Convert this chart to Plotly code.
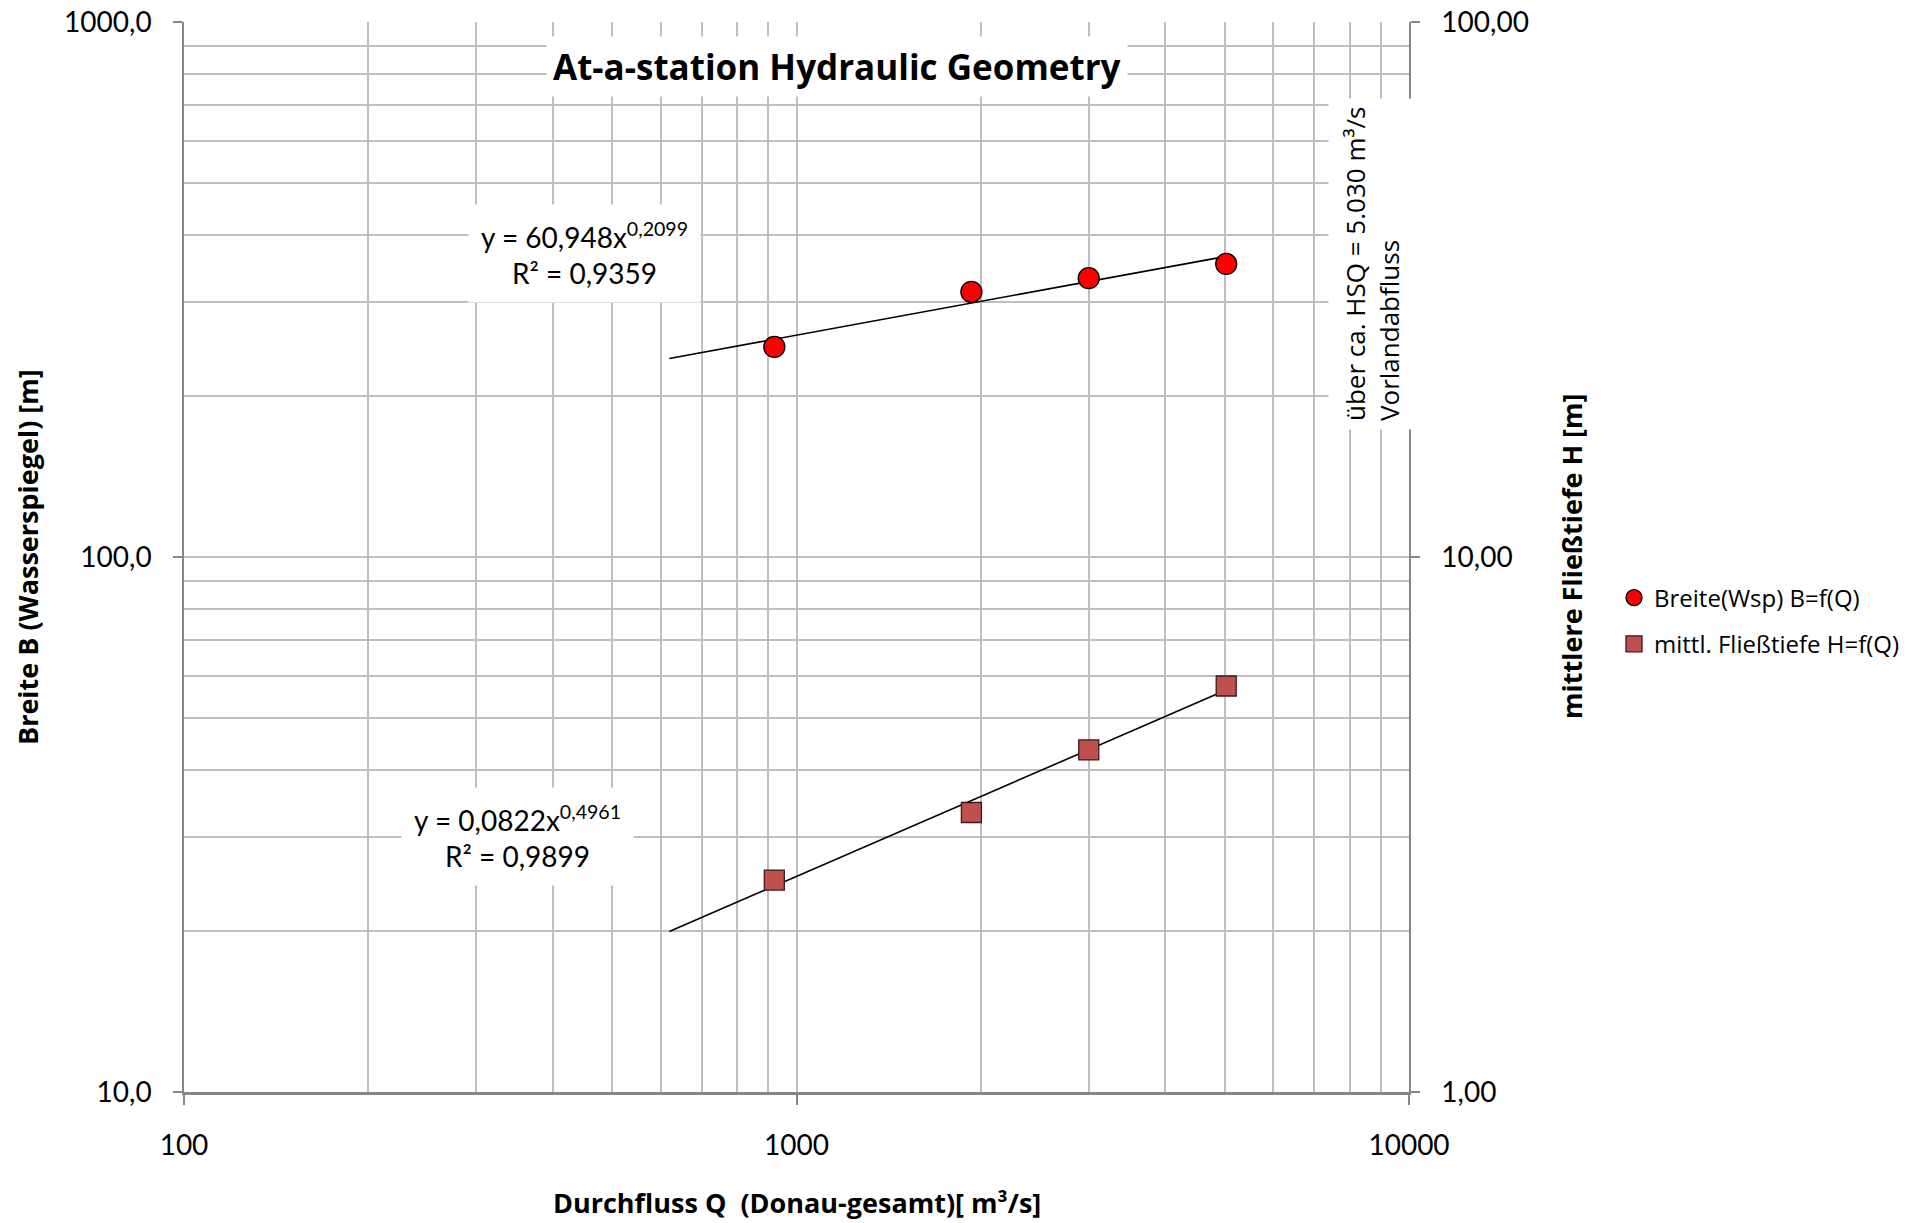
import plotly.graph_objects as go
import numpy as np

# ---- data ----
q_breite = [920, 1930, 3000, 5030]
breite = [247, 313, 332, 353]
q_tiefe = [920, 1930, 3000, 5030]
tiefe = [2.49, 3.33, 4.36, 5.74]

# trendline coefficients (power fit, as displayed)
fit_b = (60.948, 0.2099)
fit_h = (0.0822, 0.4961)
trend_q = [620, 5030]

x_tickvals = [100, 1000, 10000]
x_ticktext = ["100", "1000", "10000"]
yl_tickvals = [10, 100, 1000]
yl_ticktext = ["10,0", "100,0", "1000,0"]
yr_tickvals = [1, 10, 100]
yr_ticktext = ["1,00", "10,00", "100,00"]

x_minor = [m * d for d in (100, 1000) for m in range(2, 10)]
yl_minor = [m * d for d in (10, 100) for m in range(2, 10)]

W, H = 1924, 1223
L, R, T, B = 184, 1409, 22, 1092          # plot area in page pixels
def px(X): return (X - L) / (R - L)
def py(Y): return (B - Y) / (B - T)

tq = np.array(trend_q, dtype=float)
fig = go.Figure()

fig.add_trace(go.Scatter(x=tq, y=fit_b[0] * tq ** fit_b[1], mode="lines",
                         line=dict(color="black", width=1.6), showlegend=False, hoverinfo="skip"))
fig.add_trace(go.Scatter(x=tq, y=fit_h[0] * tq ** fit_h[1], mode="lines", yaxis="y2",
                         line=dict(color="black", width=1.6), showlegend=False, hoverinfo="skip"))

fig.add_trace(go.Scatter(x=q_breite, y=breite, mode="markers", name="Breite(Wsp) B=f(Q)",
                         legendgroup="a",
                         marker=dict(symbol="circle", size=21, color="#FF0000",
                                     line=dict(color="black", width=1.3))))
fig.add_trace(go.Scatter(x=q_tiefe, y=tiefe, mode="markers", yaxis="y2",
                         name="mittl. Fließtiefe H=f(Q)", legendgroup="b",
                         marker=dict(symbol="square", size=20, color="#C0504D",
                                     line=dict(color="#3a1a1a", width=1.3))))

grid = "#BFBFBF"
axc = "#868686"
tickfont = dict(family="Lato, Open Sans, sans-serif", size=28, color="black")

fig.update_layout(
    width=W, height=H,
    margin=dict(l=L, r=W - R, t=T, b=H - B, autoexpand=False),
    plot_bgcolor="white", paper_bgcolor="white",
    showlegend=True,
    legend=dict(x=px(1614), y=py(621), xanchor="left", yanchor="middle",
                font=dict(family="Open Sans, sans-serif", size=24, color="black"),
                tracegroupgap=12, itemwidth=30, bgcolor="rgba(0,0,0,0)"),
    xaxis=dict(type="log", range=[2, 4], tickvals=x_tickvals, ticktext=x_ticktext,
               automargin=False, ticklabeloverflow="allow",
               showgrid=True, gridcolor=grid, gridwidth=1.5,
               minor=dict(tickvals=x_minor, showgrid=True, gridcolor=grid, gridwidth=1.5, ticks=""),
               showline=True, linecolor=axc, linewidth=3, mirror=False,
               ticks="outside", ticklen=10, tickcolor=axc, tickwidth=1.5,
               ticklabelstandoff=16, tickfont=tickfont, zeroline=False),
    yaxis=dict(type="log", range=[1, 3], tickvals=yl_tickvals, ticktext=yl_ticktext,
               automargin=False, ticklabeloverflow="allow",
               showgrid=True, gridcolor=grid, gridwidth=1.5,
               minor=dict(tickvals=yl_minor, showgrid=True, gridcolor=grid, gridwidth=1.5, ticks=""),
               showline=True, linecolor=axc, linewidth=1.5,
               ticks="outside", ticklen=9, tickcolor=axc, tickwidth=1.5,
               ticklabelstandoff=16, tickfont=tickfont, zeroline=False),
    yaxis2=dict(type="log", range=[0, 2], overlaying="y", side="right",
                automargin=False, ticklabeloverflow="allow",
                tickvals=yr_tickvals, ticktext=yr_ticktext, showgrid=False,
                showline=True, linecolor=axc, linewidth=1.5,
                ticks="outside", ticklen=9, tickcolor=axc, tickwidth=1.5,
                ticklabelstandoff=16, tickfont=tickfont, zeroline=False),
)

def note(X, Y, text, font, **kw):
    fig.add_annotation(xref="paper", yref="paper", x=px(X), y=py(Y), text=text,
                       showarrow=False, xanchor="center", yanchor="middle", font=font, **kw)

ann_font = dict(family="Lato, Open Sans, sans-serif", size=28, color="black")
note(837, 66, "<b>At-a-station Hydraulic Geometry</b>",
     dict(family="Open Sans, sans-serif", size=35, color="black"), bgcolor="white", borderpad=6)
note(584, 253, "y = 60,948x<sup>0,2099</sup><br>R² = 0,9359", ann_font,
     bgcolor="white", borderpad=12, align="center")
note(517, 836, "y = 0,0822x<sup>0,4961</sup><br>R² = 0,9899", ann_font,
     bgcolor="white", borderpad=12, align="center")
note(1372, 264, "über ca. HSQ = 5.030 m³/s<br>Vorlandabfluss",
     dict(family="Open Sans, sans-serif", size=26, color="black"),
     textangle=-90, align="left", bgcolor="white", borderpad=8)

title_font = dict(family="Open Sans, sans-serif", size=27, color="black")
note(27, 557, "<b>Breite B (Wasserspiegel) [m]</b>", title_font, textangle=-90)
note(1571, 557, "<b>mittlere Fließtiefe H [m]</b>", title_font, textangle=-90)
note(797, 1202, "<b>Durchfluss Q  (Donau-gesamt)[ m³/s]</b>", title_font)

fig.write_html("out.html", config={"displayModeBar": False},
               post_script="document.body.style.margin='0';document.body.style.overflow='hidden';")
